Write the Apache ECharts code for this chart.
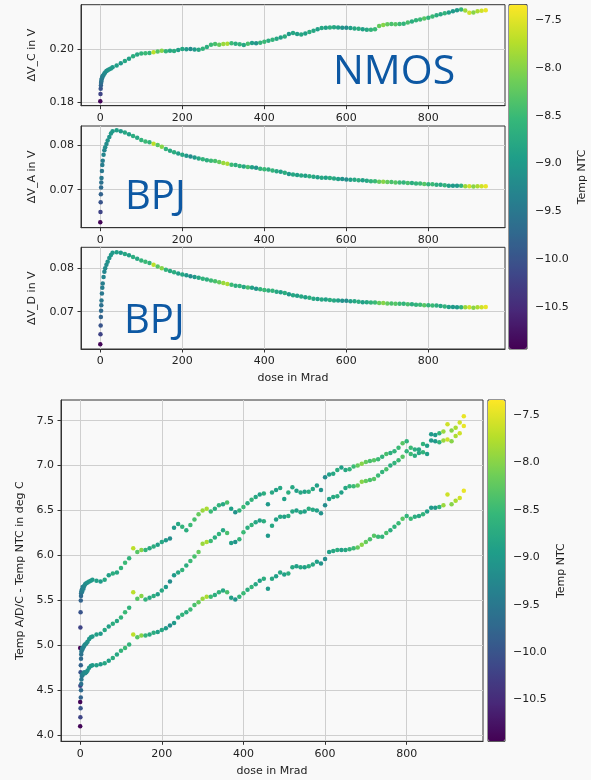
<!DOCTYPE html>
<html>
<head>
<meta charset="utf-8">
<script src="https://cdn.jsdelivr.net/npm/echarts@6/dist/echarts.min.js"></script>
<style>
html,body{margin:0;padding:0;background:#f9f9f9;}
#chart{width:591px;height:780px;}
</style>
</head>
<body>
<div id="chart"></div>
<script>
// ---------------- data ----------------
const dose = [0,0.5,1,1.5,2,2.5,3,4,5,6,8,10,12,15,18,22,26,30,
  40,50,60,70,80,90,100,110,120,130,
  140,150,160,170,180,190,200,210,220,230,
  240,250,260,270,280,290,300,310,320,330,
  340,350,360,370,380,390,400,410,420,430,
  440,450,460,470,480,490,500,510,520,530,
  540,550,560,570,580,590,600,610,620,630,
  640,650,660,670,680,690,700,710,720,730,
  740,750,760,770,780,790,800,810,820,830,
  840,850,860,870,880,890,900,910,920,930,
  940];

const tempNTC = [-10.9,-10.2,-10.0,-9.8,-9.7,-9.6,-9.5,-9.5,-9.4,-9.4,-9.3,-9.3,-9.2,-9.2,-9.1,-9.1,-9.0,-9.0,
  -8.9,-9.0,-8.8,-8.9,-8.7,-8.8,-8.6,-8.5,-8.6,-7.7,
  -8.3,-8.0,-8.6,-8.8,-8.7,-8.9,-8.8,-9.0,-9.2,-9.0,
  -8.8,-8.6,-8.7,-8.5,-8.4,-8.2,-7.9,-7.8,-8.5,-8.7,
  -8.6,-8.8,-8.4,-8.9,-9.1,-8.6,-8.5,-8.7,-8.6,-8.8,
  -8.9,-8.7,-9.0,-8.8,-8.9,-8.8,-8.9,-8.7,-8.8,-8.9,
  -8.8,-8.9,-8.7,-8.8,-8.9,-9.1,-9.2,-8.9,-8.8,-8.7,
  -8.9,-8.8,-8.6,-8.5,-8.2,-8.0,-8.2,-8.4,-8.3,-8.5,
  -8.6,-8.4,-8.7,-8.6,-8.5,-8.3,-8.6,-8.5,-8.7,-8.8,
  -8.6,-8.9,-9.0,-9.0,-8.6,-7.9,-7.6,-8.0,-7.8,-7.6,
  -7.45];

const dVC = [0.1802,0.1830,0.1850,0.1862,0.1872,0.1878,0.1884,0.1890,0.1895,0.1899,0.1903,0.1908,0.1912,0.1918,0.1921,0.1925,0.1928,0.1932,
  0.1939,0.1948,0.1956,0.1965,0.1974,0.1981,0.1985,0.1986,0.1987,0.1990,
  0.1993,0.1996,0.1994,0.1996,0.1995,0.1998,0.2002,0.2001,0.2002,0.2000,
  0.1999,0.2003,0.2010,0.2019,0.2021,0.2019,0.2021,0.2022,0.2024,0.2022,
  0.2020,0.2018,0.2022,0.2025,0.2024,0.2026,0.2030,0.2034,0.2038,0.2042,
  0.2046,0.2050,0.2060,0.2064,0.2060,0.2058,0.2062,0.2067,0.2072,0.2078,
  0.2083,0.2084,0.2085,0.2086,0.2085,0.2084,0.2084,0.2083,0.2081,0.2080,
  0.2078,0.2076,0.2076,0.2078,0.2090,0.2094,0.2097,0.2098,0.2097,0.2098,
  0.2099,0.2104,0.2108,0.2112,0.2115,0.2119,0.2122,0.2127,0.2132,0.2135,
  0.2139,0.2142,0.2147,0.2151,0.2154,0.2150,0.2141,0.2142,0.2147,0.2149,
  0.2151];

const dVA = [0.0627,0.0650,0.0672,0.0690,0.0705,0.0716,0.0726,0.0742,0.0755,0.0765,0.0778,0.0788,0.0795,0.0802,0.0810,0.0818,0.0826,0.0831,
  0.0833,0.0831,0.0828,0.0824,0.0820,0.0816,0.0811,0.0808,0.0806,0.0803,
  0.0800,0.0796,0.0791,0.0787,0.0784,0.0781,0.0778,0.0776,0.0774,0.0772,
  0.0770,0.0768,0.0766,0.0765,0.0764,0.0762,0.0760,0.0758,0.0756,0.0755,
  0.0753,0.0752,0.0751,0.0750,0.0749,0.0747,0.0746,0.0745,0.0743,0.0741,
  0.0740,0.0738,0.0735,0.0734,0.0733,0.0732,0.0731,0.0730,0.0729,0.0728,
  0.0727,0.0727,0.0726,0.0725,0.0724,0.0724,0.0723,0.0722,0.0722,0.0721,
  0.0721,0.0720,0.0719,0.0719,0.0718,0.0718,0.0717,0.0717,0.0716,0.0716,
  0.0716,0.0715,0.0715,0.0714,0.0714,0.0713,0.0712,0.0712,0.0711,0.0711,
  0.0710,0.0709,0.0709,0.0709,0.0709,0.0708,0.0708,0.0707,0.0708,0.0708,
  0.0708];

const dVD = [0.0625,0.0648,0.0668,0.0688,0.0702,0.0715,0.0726,0.0742,0.0755,0.0765,0.0780,0.0792,0.0800,0.0808,0.0815,0.0824,0.0831,0.0836,
  0.0837,0.0836,0.0833,0.0830,0.0826,0.0822,0.0818,0.0815,0.0812,0.0808,
  0.0804,0.0800,0.0797,0.0794,0.0791,0.0788,0.0786,0.0784,0.0782,0.0780,
  0.0778,0.0776,0.0774,0.0772,0.0770,0.0768,0.0766,0.0764,0.0762,0.0760,
  0.0759,0.0757,0.0756,0.0755,0.0753,0.0752,0.0750,0.0749,0.0748,0.0746,
  0.0745,0.0743,0.0740,0.0738,0.0737,0.0735,0.0733,0.0732,0.0730,0.0729,
  0.0728,0.0728,0.0727,0.0726,0.0726,0.0725,0.0725,0.0724,0.0724,0.0723,
  0.0722,0.0722,0.0721,0.0721,0.0720,0.0720,0.0719,0.0719,0.0718,0.0718,
  0.0718,0.0717,0.0717,0.0716,0.0716,0.0715,0.0715,0.0714,0.0714,0.0713,
  0.0712,0.0711,0.0711,0.0710,0.0710,0.0710,0.0710,0.0709,0.0710,0.0710,
  0.0711];

// Temp A/D/C - Temp NTC : upper, middle and lower band
const diffUpper = [4.97,5.20,5.37,5.50,5.55,5.58,5.60,5.62,5.60,5.65,5.63,5.66,5.68,5.69,5.70,5.71,5.72,5.73,
  5.72,5.71,5.73,5.78,5.80,5.81,5.86,5.92,5.97,6.08,
  6.04,6.06,6.06,6.08,6.10,6.12,6.15,6.17,6.19,6.31,
  6.35,6.32,6.28,6.34,6.40,6.46,6.50,6.52,6.49,6.52,
  6.56,6.57,6.59,6.52,6.48,6.50,6.54,6.58,6.62,6.65,
  6.68,6.69,6.57,6.70,6.73,6.75,6.63,6.70,6.76,6.72,
  6.70,6.71,6.71,6.74,6.78,6.73,6.87,6.90,6.91,6.95,
  6.98,6.95,6.96,6.99,7.00,7.02,7.04,7.05,7.06,7.07,
  7.10,7.13,7.14,7.16,7.20,7.25,7.27,7.20,7.18,7.18,
  7.24,7.22,7.35,7.34,7.36,7.38,7.46,7.39,7.42,7.48,
  7.55];

const diffMiddle = [4.37,4.55,4.70,4.78,4.85,4.90,4.93,4.95,4.97,4.96,4.98,5.00,5.01,5.02,5.04,5.07,5.09,5.10,
  5.12,5.13,5.17,5.21,5.24,5.27,5.31,5.37,5.42,5.59,
  5.52,5.55,5.51,5.53,5.55,5.57,5.61,5.65,5.71,5.78,
  5.81,5.84,5.89,5.94,5.99,6.04,6.13,6.15,6.16,6.20,
  6.24,6.28,6.25,6.14,6.15,6.18,6.26,6.31,6.34,6.37,
  6.39,6.38,6.22,6.33,6.40,6.43,6.43,6.44,6.49,6.50,
  6.48,6.49,6.52,6.51,6.50,6.47,6.56,6.63,6.65,6.66,
  6.70,6.75,6.77,6.77,6.78,6.82,6.83,6.84,6.85,6.89,
  6.93,6.96,7.00,7.03,7.06,7.10,7.16,7.13,7.11,7.14,
  7.15,7.13,7.28,7.27,7.26,7.28,7.29,7.27,7.33,7.36,
  7.44];

const diffLower = [4.10,4.20,4.30,4.42,4.50,4.57,4.62,4.66,4.68,4.67,4.69,4.70,4.69,4.70,4.72,4.75,4.77,4.78,
  4.78,4.79,4.80,4.83,4.86,4.90,4.94,4.97,5.01,5.12,
  5.09,5.11,5.11,5.12,5.14,5.15,5.17,5.19,5.22,5.25,
  5.31,5.34,5.37,5.40,5.45,5.48,5.52,5.54,5.54,5.56,
  5.59,5.61,5.59,5.53,5.51,5.54,5.58,5.62,5.65,5.68,
  5.72,5.74,5.63,5.74,5.77,5.81,5.79,5.80,5.87,5.88,
  5.87,5.87,5.88,5.90,5.93,5.91,5.96,6.04,6.05,6.06,
  6.06,6.06,6.07,6.08,6.09,6.12,6.15,6.18,6.22,6.21,
  6.21,6.25,6.28,6.32,6.36,6.41,6.44,6.41,6.43,6.44,
  6.46,6.49,6.53,6.53,6.54,6.56,6.68,6.57,6.61,6.64,
  6.72];

const xTicks = [0, 200, 400, 600, 800];
const yTicksC = [0.18, 0.20];
const yTicksA = [0.07, 0.08];
const yTicksD = [0.07, 0.08];
const yTicksDiff = [4.0, 4.5, 5.0, 5.5, 6.0, 6.5, 7.0, 7.5];
const cbarTicks = [-10.5, -10.0, -9.5, -9.0, -8.5, -8.0, -7.5];
const tempMin = -10.94, tempMax = -7.34;

// ---------------- styling ----------------
const FONT = 'DejaVu Sans';
const TXT = '#222';
const AX = '#333';
const viridis = ['#440154','#482878','#3e4989','#31688e','#26828e','#1f9e89','#35b779','#6ece58','#b5de2b','#fde725'];

function pts(ys) { return dose.map((d, i) => [d, ys[i], tempNTC[i]]); }

function xAxisCfg(gi, withName) {
  return {
    type: 'value', gridIndex: gi, min: -47, max: 987,
    axisLine: { show: true, onZero: false, lineStyle: { color: AX, width: 1 } },
    axisTick: { show: true, length: 3.5, customValues: xTicks, lineStyle: { color: AX } },
    axisLabel: { customValues: xTicks, margin: 7, color: TXT, fontSize: 11, fontFamily: FONT },
    splitLine: { show: true, lineStyle: { color: '#cfcfcf', width: 1 } },
    name: withName ? 'dose in Mrad' : '', nameLocation: 'middle', nameGap: 24,
    nameTextStyle: { color: TXT, fontSize: 11, fontFamily: FONT }
  };
}
function yAxisCfg(gi, min, max, ticks, dec, name, gap) {
  return {
    type: 'value', gridIndex: gi, min: min, max: max,
    axisLine: { show: true, onZero: false, lineStyle: { color: AX, width: 1 } },
    axisTick: { show: true, length: 3.5, customValues: ticks, lineStyle: { color: AX } },
    axisLabel: { customValues: ticks, margin: 7, color: TXT, fontSize: 11, fontFamily: FONT,
      formatter: v => v.toFixed(dec) },
    splitLine: { show: true, lineStyle: { color: '#cfcfcf', width: 1 } },
    name: name, nameLocation: 'middle', nameGap: gap, nameRotate: 90,
    nameTextStyle: { color: TXT, fontSize: 11, fontFamily: FONT }
  };
}
function cbarY(gi, gap) {
  return {
    type: 'value', gridIndex: gi, min: tempMin, max: tempMax, position: 'right',
    axisLine: { show: false },
    axisTick: { show: true, length: 3.5, customValues: cbarTicks, lineStyle: { color: AX } },
    axisLabel: { customValues: cbarTicks, margin: 8, color: TXT, fontSize: 11, fontFamily: FONT,
      formatter: v => (v < 0 ? '\u2212' : '') + Math.abs(v).toFixed(1) },
    splitLine: { show: false },
    name: 'Temp NTC', nameLocation: 'middle', nameGap: gap, nameRotate: 90,
    nameTextStyle: { color: TXT, fontSize: 11, fontFamily: FONT }
  };
}
function cbarX(gi) { return { type: 'value', gridIndex: gi, show: false, min: 0, max: 1 }; }

function gridBox(left, top, width, height) {
  return { left, top, width, height, show: true, borderColor: AX, borderWidth: 1, backgroundColor: 'transparent' };
}
function scatter(gi, ys, name) {
  return { type: 'scatter', name, xAxisIndex: gi, yAxisIndex: gi, data: pts(ys),
    symbolSize: 4.5, itemStyle: { opacity: 1 }, silent: true, animation: false };
}

const chart = echarts.init(document.getElementById('chart'), null, { renderer: 'canvas' });
chart.setOption({
  backgroundColor: '#f9f9f9',
  animation: false,
  grid: [
    gridBox(81, 4.7, 424, 101),
    gridBox(81, 126, 424, 101.7),
    gridBox(81, 247.3, 424, 101.7),
    gridBox(61, 400, 422, 341.3),
    gridBox(509, 4.7, 18, 344.3),
    gridBox(488, 400, 17, 341.3)
  ],
  xAxis: [xAxisCfg(0, false), xAxisCfg(1, false), xAxisCfg(2, true), xAxisCfg(3, true), cbarX(4), cbarX(5)],
  yAxis: [
    yAxisCfg(0, 0.1785, 0.2172, yTicksC, 2, '\u0394V_C in V', 43),
    yAxisCfg(1, 0.0615, 0.08425, yTicksA, 2, '\u0394V_A in V', 43),
    yAxisCfg(2, 0.06139, 0.08485, yTicksD, 2, '\u0394V_D in V', 43),
    yAxisCfg(3, 3.933, 7.73, yTicksDiff, 1, 'Temp A/D/C - Temp NTC in deg C', 34),
    cbarY(4, 50),
    cbarY(5, 51)
  ],
  visualMap: [
    { type: 'continuous', min: tempMin, max: tempMax, dimension: 2, seriesIndex: [0, 1, 2],
      inRange: { color: viridis }, calculable: false, hoverLink: false, orient: 'vertical',
      left: 509, top: 4.7, itemWidth: 18, itemHeight: 344.3, padding: 0, text: null, z: 1 },
    { type: 'continuous', min: tempMin, max: tempMax, dimension: 2, seriesIndex: [3, 4, 5],
      inRange: { color: viridis }, calculable: false, hoverLink: false, orient: 'vertical',
      left: 488, top: 400, itemWidth: 17, itemHeight: 341.3, padding: 0, text: null, z: 1 }
  ],
  series: [
    scatter(0, dVC, 'dV_C'),
    scatter(1, dVA, 'dV_A'),
    scatter(2, dVD, 'dV_D'),
    scatter(3, diffUpper, 'upper'),
    scatter(3, diffMiddle, 'middle'),
    scatter(3, diffLower, 'lower')
  ],
  graphic: [
    { type: 'text', left: 333, top: 52, z: 100, silent: true,
      style: { text: 'NMOS', fill: '#0d58a3', fontSize: 41, fontFamily: 'Open Sans' } },
    { type: 'text', left: 125, top: 178, z: 100, silent: true,
      style: { text: 'BPJ', fill: '#0d58a3', fontSize: 40, fontFamily: 'Open Sans' } },
    { type: 'text', left: 124, top: 302, z: 100, silent: true,
      style: { text: 'BPJ', fill: '#0d58a3', fontSize: 40, fontFamily: 'Open Sans' } }
  ]
});
</script>
</body>
</html>
